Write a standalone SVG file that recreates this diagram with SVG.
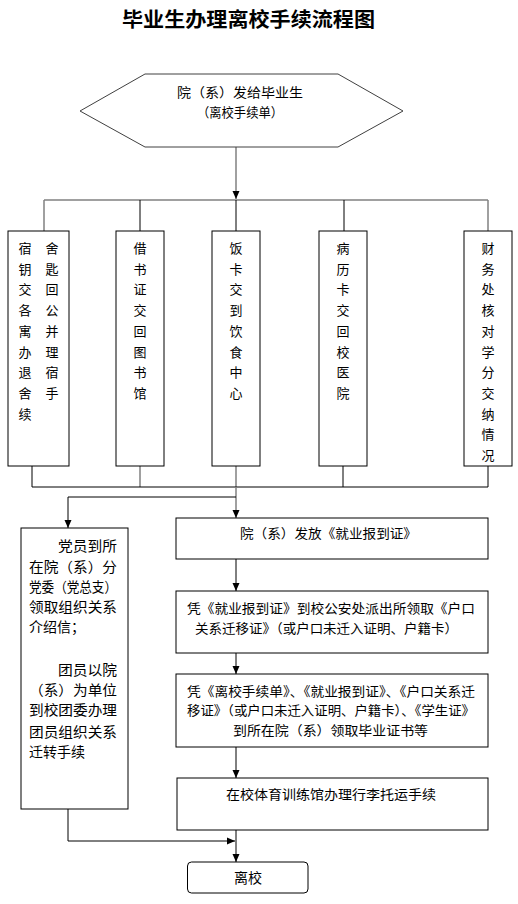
<svg xmlns="http://www.w3.org/2000/svg" width="518" height="904" viewBox="0 0 518 904">
<style>
text{font-family:"Noto Sans CJK SC","Liberation Sans",sans-serif;font-size:13px;fill:#000}
.t{font-size:20px;font-weight:700}
.box{fill:#fff;stroke:#000;stroke-width:1}
.c{fill:none;stroke:#000;stroke-width:1}
.g{fill:none;stroke:#808080;stroke-width:1.5}
.m{text-anchor:middle}
.l{font-size:14px}
</style>
<defs>
<marker id="a" markerUnits="userSpaceOnUse" markerWidth="8" markerHeight="8" refX="8" refY="4" orient="auto">
<path d="M0,0.5 L8,4 L0,7.5 z" fill="#000"/>
</marker>
</defs>
<rect width="518" height="904" fill="#fff"/>
<text class="t m" x="248.5" y="27" textLength="253" lengthAdjust="spacingAndGlyphs">毕业生办理离校手续流程图</text>

<g id="connectors">
<line class="g" x1="236" y1="147" x2="236" y2="199" marker-end="url(#a)"/>
<line class="g" x1="44" y1="200" x2="488" y2="200"/>
<line class="g" x1="44" y1="200" x2="44" y2="231"/>
<line class="c" x1="140" y1="200" x2="140" y2="231"/>
<line class="c" x1="236" y1="200" x2="236" y2="231"/>
<line class="c" x1="344" y1="200" x2="344" y2="231"/>
<line class="g" x1="488" y1="200" x2="488" y2="231"/>
<line class="c" x1="32" y1="466" x2="32" y2="487"/>
<line class="g" x1="140" y1="466" x2="140" y2="487"/>
<line class="g" x1="236" y1="466" x2="236" y2="487"/>
<line class="c" x1="343" y1="466" x2="343" y2="487"/>
<line class="c" x1="488" y1="466" x2="488" y2="487"/>
<line class="c" x1="32" y1="487" x2="488" y2="487"/>
<line class="g" x1="236" y1="487" x2="236" y2="518" marker-end="url(#a)"/>
<polyline class="c" points="236,497 68,497 68,528" marker-end="url(#a)"/>
<line class="c" x1="236" y1="559" x2="236" y2="591" marker-end="url(#a)"/>
<line class="c" x1="236" y1="653" x2="236" y2="674" marker-end="url(#a)"/>
<line class="c" x1="236" y1="747" x2="236" y2="778" marker-end="url(#a)"/>
<line class="c" x1="236" y1="830" x2="236" y2="862" marker-end="url(#a)"/>
<polyline class="c" points="68,809 68,841 235,841" marker-end="url(#a)"/>
</g>

<g id="start">
<polygon points="80,111 145,74 338,74 403,111 338,147 145,147" fill="#fff" stroke="#404040" stroke-width="1"/>
<text class="m" x="240" y="97" textLength="126" lengthAdjust="spacingAndGlyphs">院（系）发给毕业生</text>
<text class="m" x="240" y="117" textLength="86" lengthAdjust="spacingAndGlyphs">（离校手续单）</text>
</g>

<g id="dorm">
<rect class="box" x="8" y="231" width="61" height="235"/>
<text x="25" y="253" text-anchor="middle"><tspan x="25">宿</tspan><tspan x="25" dy="20.7">钥</tspan><tspan x="25" dy="20.7">交</tspan><tspan x="25" dy="20.7">各</tspan><tspan x="25" dy="20.7">寓</tspan><tspan x="25" dy="20.7">办</tspan><tspan x="25" dy="20.7">退</tspan><tspan x="25" dy="20.7">舍</tspan><tspan x="25" dy="20.7">续</tspan></text>
<text x="52" y="253" text-anchor="middle"><tspan x="52">舍</tspan><tspan x="52" dy="20.7">匙</tspan><tspan x="52" dy="20.7">回</tspan><tspan x="52" dy="20.7">公</tspan><tspan x="52" dy="20.7">并</tspan><tspan x="52" dy="20.7">理</tspan><tspan x="52" dy="20.7">宿</tspan><tspan x="52" dy="20.7">手</tspan></text>
</g>

<g id="library">
<rect class="box" x="116" y="231" width="48" height="235"/>
<text x="140" y="253" text-anchor="middle"><tspan x="140">借</tspan><tspan x="140" dy="20.7">书</tspan><tspan x="140" dy="20.7">证</tspan><tspan x="140" dy="20.7">交</tspan><tspan x="140" dy="20.7">回</tspan><tspan x="140" dy="20.7">图</tspan><tspan x="140" dy="20.7">书</tspan><tspan x="140" dy="20.7">馆</tspan></text>
</g>

<g id="canteen">
<rect class="box" x="212" y="231" width="48" height="235"/>
<text x="236" y="253" text-anchor="middle"><tspan x="236">饭</tspan><tspan x="236" dy="20.7">卡</tspan><tspan x="236" dy="20.7">交</tspan><tspan x="236" dy="20.7">到</tspan><tspan x="236" dy="20.7">饮</tspan><tspan x="236" dy="20.7">食</tspan><tspan x="236" dy="20.7">中</tspan><tspan x="236" dy="20.7">心</tspan></text>
</g>

<g id="hospital">
<rect class="box" x="319" y="231" width="48" height="235"/>
<text x="343" y="253" text-anchor="middle"><tspan x="343">病</tspan><tspan x="343" dy="20.7">历</tspan><tspan x="343" dy="20.7">卡</tspan><tspan x="343" dy="20.7">交</tspan><tspan x="343" dy="20.7">回</tspan><tspan x="343" dy="20.7">校</tspan><tspan x="343" dy="20.7">医</tspan><tspan x="343" dy="20.7">院</tspan></text>
</g>

<g id="finance">
<rect class="box" x="464" y="231" width="48" height="235"/>
<text x="488" y="253" text-anchor="middle"><tspan x="488">财</tspan><tspan x="488" dy="20.7">务</tspan><tspan x="488" dy="20.7">处</tspan><tspan x="488" dy="20.7">核</tspan><tspan x="488" dy="20.7">对</tspan><tspan x="488" dy="20.7">学</tspan><tspan x="488" dy="20.7">分</tspan><tspan x="488" dy="20.7">交</tspan><tspan x="488" dy="20.7">纳</tspan><tspan x="488" dy="20.7">情</tspan><tspan x="488" dy="20.7">况</tspan></text>
</g>

<g id="party">
<rect class="box" x="21" y="528" width="107" height="281"/>
<text class="l" x="58" y="551" textLength="59" lengthAdjust="spacingAndGlyphs">党员到所</text>
<text class="l" x="29" y="572" textLength="88" lengthAdjust="spacingAndGlyphs">在院（系）分</text>
<text class="l" x="29" y="592" textLength="88" lengthAdjust="spacingAndGlyphs">党委（党总支）</text>
<text class="l" x="29" y="612" textLength="88" lengthAdjust="spacingAndGlyphs">领取组织关系</text>
<text class="l" x="29" y="632">介绍信；</text>
<text class="l" x="58" y="675" textLength="59" lengthAdjust="spacingAndGlyphs">团员以院</text>
<text class="l" x="29" y="695" textLength="88" lengthAdjust="spacingAndGlyphs">（系）为单位</text>
<text class="l" x="29" y="715" textLength="88" lengthAdjust="spacingAndGlyphs">到校团委办理</text>
<text class="l" x="29" y="737" textLength="88" lengthAdjust="spacingAndGlyphs">团员组织关系</text>
<text class="l" x="29" y="757">迁转手续</text>
</g>

<g id="report">
<rect class="box" x="176" y="518" width="312" height="41"/>
<text class="m" x="328.5" y="538" textLength="177" lengthAdjust="spacingAndGlyphs">院（系）发放《就业报到证》</text>
</g>

<g id="hukou">
<rect class="box" x="176" y="591" width="312" height="62"/>
<text class="m" x="331" y="613" textLength="288" lengthAdjust="spacingAndGlyphs">凭《就业报到证》到校公安处派出所领取《户口</text>
<text class="m" x="326.5" y="633" textLength="263" lengthAdjust="spacingAndGlyphs">关系迁移证》（或户口未迁入证明、户籍卡）</text>
</g>

<g id="diploma">
<rect class="box" x="176" y="674" width="312" height="73"/>
<text class="m" x="331" y="696" textLength="288" lengthAdjust="spacingAndGlyphs">凭《离校手续单》、《就业报到证》、《户口关系迁</text>
<text class="m" x="331" y="715" textLength="288" lengthAdjust="spacingAndGlyphs">移证》（或户口未迁入证明、户籍卡）、《学生证》</text>
<text class="m" x="330.5" y="735" textLength="195" lengthAdjust="spacingAndGlyphs">到所在院（系）领取毕业证书等</text>
</g>

<g id="luggage">
<rect class="box" x="177" y="778" width="311" height="52"/>
<text class="m" x="331" y="799" textLength="210" lengthAdjust="spacingAndGlyphs">在校体育训练馆办理行李托运手续</text>
</g>

<g id="leave">
<rect class="box" x="187.5" y="862" width="120.5" height="31" rx="4" ry="4"/>
<text class="m" x="248" y="883" style="font-size:14px">离校</text>
</g>
</svg>
